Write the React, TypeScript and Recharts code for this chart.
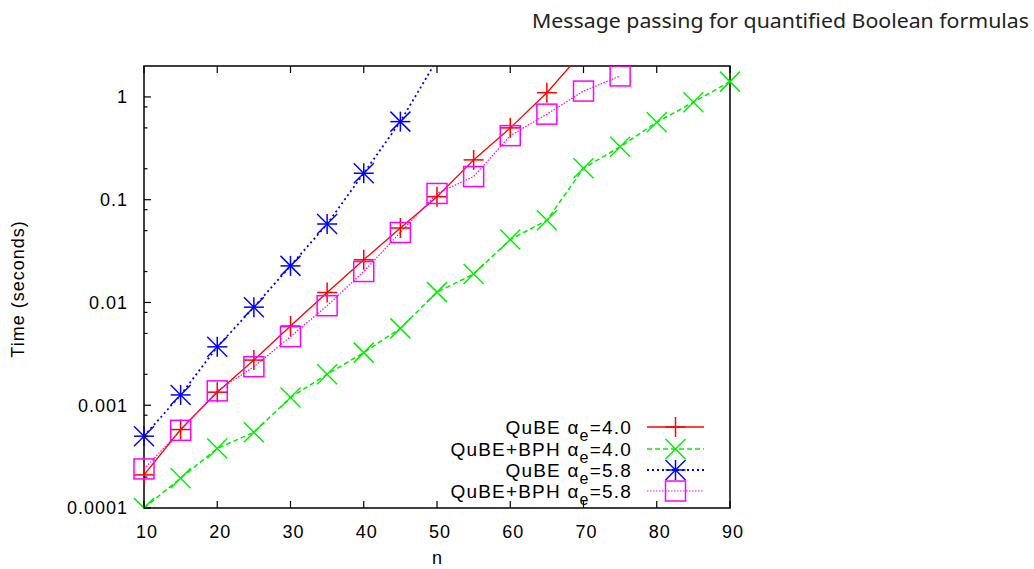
import React from 'react';
import { LineChart, Line, XAxis, YAxis, ReferenceArea, Legend } from 'recharts';

// ---- data ----
const nValues = [10, 15, 20, 25, 30, 35, 40, 45, 50, 55, 60, 65, 70, 75, 80, 85, 90];
const qube40 = [0.00021, 0.00058, 0.00134, 0.00275, 0.0059, 0.0125, 0.026, 0.053, 0.107, 0.244, 0.5, 1.1, 2.8];
const bph40 = [0.0001, 0.000195, 0.00038, 0.000545, 0.00119, 0.002, 0.00325, 0.0056, 0.0126, 0.0189, 0.041, 0.063, 0.202, 0.328, 0.567, 0.888, 1.41];
const qube58 = [0.0005, 0.00126, 0.0037, 0.009, 0.0227, 0.058, 0.181, 0.575, 2.3];
const bph58 = [0.00024, 0.00057, 0.00138, 0.00237, 0.00465, 0.0093, 0.02, 0.048, 0.115, 0.168, 0.42, 0.68, 1.14, 1.6];

const xTicks = [10, 20, 30, 40, 50, 60, 70, 80, 90];
const yMajorTicks = [0.0001, 0.001, 0.01, 0.1, 1];
const yMajorLabels = ['0.0001', '0.001', '0.01', '0.1', '1'];
const yMinorTicks = [0.0002, 0.0005, 0.0008, 0.002, 0.005, 0.008, 0.02, 0.05, 0.08, 0.2, 0.5, 0.8];
const Y_MIN = 0.0001;
const Y_MAX = 2;

const seriesKeys = ['qube40', 'bph40', 'qube58', 'bph58'];
const seriesNames = ['QuBE', 'QuBE+BPH', 'QuBE', 'QuBE+BPH'];
const seriesAlpha = ['4.0', '4.0', '5.8', '5.8'];
const seriesColors = ['#ff0000', '#00ee00', '#0000ff', '#ff00ff'];
const seriesDash = [undefined, '5 3', '2 3', '1.5 1.5'];
const seriesMarkers = ['plus', 'cross', 'star', 'square'];
const seriesWidth = [1.3, 1.5, 1.8, 1.2];

const tableData = nValues.map((n, i) => ({
  n,
  qube40: qube40[i],
  bph40: bph40[i],
  qube58: qube58[i],
  bph58: bph58[i],
}));

// ---- layout ----
const W = 1034;
const H = 569;
const PLOT_LEFT = 144;
const PLOT_RIGHT = 730;
const PLOT_TOP = 66;
const PLOT_BOTTOM = 508;
const FONT = '"Liberation Sans", Arial, sans-serif';

const drawMarker = (kind: string, cx: number, cy: number, color: string, s = 10) => {
  const sw = 1.5;
  if (kind === 'plus') {
    return (
      <g stroke={color} strokeWidth={sw} fill="none">
        <line x1={cx - s} y1={cy} x2={cx + s} y2={cy} />
        <line x1={cx} y1={cy - s} x2={cx} y2={cy + s} />
      </g>
    );
  }
  if (kind === 'cross') {
    return (
      <g stroke={color} strokeWidth={sw} fill="none">
        <line x1={cx - s} y1={cy - s} x2={cx + s} y2={cy + s} />
        <line x1={cx - s} y1={cy + s} x2={cx + s} y2={cy - s} />
      </g>
    );
  }
  if (kind === 'star') {
    return (
      <g stroke={color} strokeWidth={sw} fill="none">
        <line x1={cx - s} y1={cy} x2={cx + s} y2={cy} />
        <line x1={cx} y1={cy - s} x2={cx} y2={cy + s} />
        <line x1={cx - s} y1={cy - s} x2={cx + s} y2={cy + s} />
        <line x1={cx - s} y1={cy + s} x2={cx + s} y2={cy - s} />
      </g>
    );
  }
  return <rect x={cx - s} y={cy - s} width={2 * s} height={2 * s} stroke={color} strokeWidth={sw} fill="none" />;
};

const makeDot = (kind: string, color: string) => (props: any) => {
  const { cx, cy, value, index } = props;
  const v = Array.isArray(value) ? value[1] : value;
  if (v == null || cx == null || cy == null || v > Y_MAX || v < Y_MIN) return <g key={`d-${index}`} />;
  return <g key={`d-${index}`}>{drawMarker(kind, cx, cy, color)}</g>;
};

const XTick = (props: any) => {
  const { x, payload } = props;
  return (
    <g>
      <line x1={x} y1={PLOT_BOTTOM} x2={x} y2={PLOT_BOTTOM - 7} stroke="#000" strokeWidth={1.2} />
      <line x1={x} y1={PLOT_TOP} x2={x} y2={PLOT_TOP + 7} stroke="#000" strokeWidth={1.2} />
      <text x={x + 3} y={538} textAnchor="middle" fontFamily={FONT} fontSize={18} letterSpacing={1} fill="#000">
        {payload.value}
      </text>
    </g>
  );
};

const YTick = (props: any) => {
  const { y, payload } = props;
  const v = payload.value;
  const idx = yMajorTicks.findIndex((t) => Math.abs(t - v) / t < 1e-6);
  const major = idx >= 0;
  return (
    <g>
      <line x1={PLOT_LEFT} y1={y} x2={PLOT_LEFT + (major ? 7 : 3.5)} y2={y} stroke="#000" strokeWidth={1.2} />
      {major && (
        <text x={128} y={y} dy="0.36em" textAnchor="end" fontFamily={FONT} fontSize={18} letterSpacing={1} fill="#000">
          {yMajorLabels[idx]}
        </text>
      )}
    </g>
  );
};

const legendRowY = [427, 449, 470, 491];

const Overlay = () => (
  <div style={{ position: 'absolute', left: 0, top: 0, width: 0, height: 0, overflow: 'visible' }}>
    <svg width={W} height={H} style={{ position: 'absolute', left: 0, top: 0, overflow: 'visible', pointerEvents: 'none' }}>
      <text x={532} y={28} fontFamily='"Noto Sans", "DejaVu Sans", sans-serif' fontSize={20} fill="#222" textLength={497} lengthAdjust="spacingAndGlyphs">
        Message passing for quantified Boolean formulas
      </text>
      {seriesKeys.map((k, i) => {
        const ry = legendRowY[i];
        return (
          <g key={k}>
            <text x={632} y={ry + 7} textAnchor="end" fontFamily={FONT} fontSize={19} letterSpacing={1.2} fill="#000">
              {seriesNames[i]} α
              <tspan dy={7} fontSize={16}>e</tspan>
              <tspan dy={-7}>={seriesAlpha[i]}</tspan>
            </text>
            <line x1={647} y1={ry} x2={704} y2={ry} stroke={seriesColors[i]} strokeWidth={seriesWidth[i]} strokeDasharray={seriesDash[i]} />
            {drawMarker(seriesMarkers[i], 675.5, ry, seriesColors[i])}
          </g>
        );
      })}
    </svg>
  </div>
);

export default function App() {
  return (
    <div style={{ position: 'absolute', left: 0, top: 0, width: W, height: H, background: '#fff' }}>
      <LineChart
        width={W}
        height={H}
        data={tableData}
        margin={{ top: PLOT_TOP, right: W - PLOT_RIGHT, bottom: 21, left: PLOT_LEFT - 60 }}
      >
        <ReferenceArea x1={10} x2={90} y1={Y_MIN} y2={Y_MAX} fill="none" stroke="#000" strokeWidth={1.5} />
        <XAxis
          dataKey="n"
          type="number"
          domain={[10, 90]}
          ticks={xTicks}
          height={40}
          axisLine={false}
          tickLine={false}
          tick={<XTick />}
          interval={0}
          label={() => (
            <text x={437} y={564} textAnchor="middle" fontFamily={FONT} fontSize={18} fill="#000">
              n
            </text>
          )}
        />
        <YAxis
          type="number"
          scale="log"
          domain={[Y_MIN, Y_MAX]}
          allowDataOverflow
          ticks={[...yMajorTicks, ...yMinorTicks]}
          width={60}
          axisLine={false}
          tickLine={false}
          tick={<YTick />}
          interval={0}
          label={() => (
            <text x={24} y={289} transform="rotate(-90 24 289)" textAnchor="middle" fontFamily={FONT} fontSize={18} letterSpacing={1} fill="#000">
              Time (seconds)
            </text>
          )}
        />
        {seriesKeys.map((k, i) => (
          <Line
            key={k}
            dataKey={k}
            type="linear"
            stroke={seriesColors[i]}
            strokeWidth={seriesWidth[i]}
            strokeDasharray={seriesDash[i]}
            dot={makeDot(seriesMarkers[i], seriesColors[i])}
            activeDot={false}
            isAnimationActive={false}
            connectNulls={false}
          />
        ))}
        <Legend content={() => <Overlay />} wrapperStyle={{ position: 'absolute', left: 0, top: 0, width: 0, height: 0 }} />
      </LineChart>
    </div>
  );
}
